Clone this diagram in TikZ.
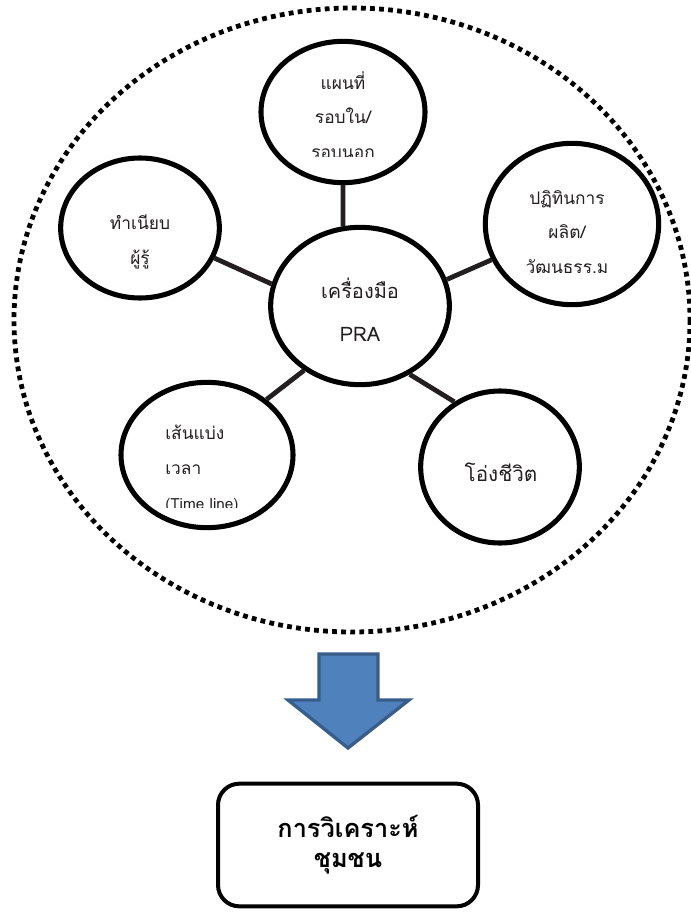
\documentclass[tikz,border=0pt]{standalone}
\usepackage{fontspec}
\setmainfont[Script=Thai]{Loma}
\usetikzlibrary{shapes.geometric}

\definecolor{arrowFill}{HTML}{4F81BD}
\definecolor{arrowLine}{HTML}{385D8A}
\definecolor{inkGray}{HTML}{231F20}

\tikzset{
  tool/.style={draw=black, line width=3.8pt, ellipse, inner sep=0pt},
  link/.style={draw=inkGray, line width=3.6pt},
  txt/.style={text=inkGray, align=center, inner sep=0pt,
    font=\fontsize{13}{26}\selectfont},
}

\begin{document}
\begin{tikzpicture}[x=0.75pt,y=-0.75pt]
\useasboundingbox (0,0) rectangle (691,916);

% Dotted outer ellipse
\draw[line width=3.6pt, dash pattern=on 3.6pt off 3.2pt]
  (352,320) ellipse [x radius=338, y radius=312];

% Tool circles
\node[tool, minimum width=134pt, minimum height=118pt] (hub) at (360,306) {};
\node[tool, minimum width=123pt, minimum height=106pt] (map) at (343,112) {};
\node[tool, minimum width=119pt, minimum height=105pt] (elders) at (140,228) {};
\node[tool, minimum width=130pt, minimum height=121pt] (calendar) at (572,224) {};
\node[tool, minimum width=129pt, minimum height=109pt] (timeline) at (207,455) {};
\node[tool, minimum width=119pt, minimum height=114pt] (jar) at (500,467) {};

% Spokes
\draw[link] (hub.102) -- (map.-90);
\draw[link] (hub.166) -- (elders.-22);
\draw[link] (hub.17) -- (calendar.204);
\draw[link] (hub.229) -- (timeline.43);
\draw[link] (hub.-54) -- (jar.125);

% Labels
\begin{scope}
  \clip (250,40) rectangle (440,157);
  \node[txt] (mapText) at (343,115) {แผนที่\\รอบใน/\\รอบนอก};
\end{scope}
\node[txt] (eldersText) at (140,242) {ทำเนียบ\\ผู้รู้};
\node[txt] (calendarText) at (567,232) {ปฏิทินการ\\ผลิต/\\วัฒนธรร.ม};
\node[txt, font=\fontsize{15}{32}\selectfont] (hubText) at (360,310) {เครื่องมือ\\PRA};
\begin{scope}
  \clip (120,380) rectangle (295,507);
  \node[txt, align=left, anchor=west] (timelineText) at (165,469)
    {เส้นแบ่ง\\เวลา\\{\fontsize{11.5}{26}\selectfont (Time line)}};
\end{scope}
\node[txt, font=\fontsize{15.5}{26}\selectfont] (jarText) at (501,472) {โอ่งชีวิต};

% Down arrow
\draw[fill=arrowFill, draw=arrowLine, line width=2.5pt, line join=miter]
  (319,654) -- (378,654) -- (378,700) -- (409,700) -- (348,748)
  -- (288,700) -- (319,700) -- cycle;

% Result box
\node[draw=black, line width=3pt, rounded corners=16pt,
  minimum width=195pt, minimum height=92pt, align=center,
  font=\bfseries\fontsize{19}{22.5}\selectfont] (analysis) at (348,845)
  {การวิเคราะห์\\ชุมชน};

\end{tikzpicture}
\end{document}
